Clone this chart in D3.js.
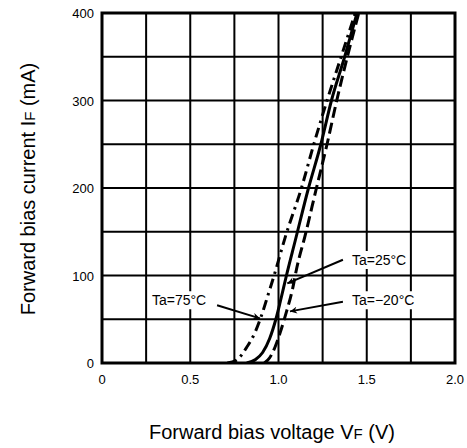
<!DOCTYPE html>
<html>
<head>
<meta charset="UTF-8">
<style>
body { margin: 0; background: #fff; }
svg text { font-family: Arial, "Liberation Sans", sans-serif; fill: #000; }
.grid line { stroke: #000; stroke-width: 2px; }
.curve { fill: none; stroke: #000; stroke-width: 3px; }
</style>
<script src="https://d3js.org/d3.v7.min.js"></script>
</head>
<body>
<svg></svg>
<script>

// forward voltage (V) vs forward current (mA)
var vf25 = [0.82, 0.87, 0.91, 0.95, 0.985, 1.01, 1.045, 1.095, 1.17, 1.24, 1.30, 1.375, 1.445];
var if25 = [0, 4, 12, 28, 50, 70, 100, 140, 200, 250, 300, 350, 400];

var vfm20 = [0.92, 0.95, 0.98, 1.01, 1.04, 1.08, 1.105, 1.15, 1.215, 1.275, 1.33, 1.39, 1.455];
var ifm20 = [0, 6, 18, 35, 55, 85, 110, 145, 200, 250, 300, 350, 400];

var vf75 = [0.71, 0.76, 0.82, 0.867, 0.905, 0.935, 0.975, 1.04, 1.13, 1.20, 1.275, 1.355, 1.435];
var if75 = [0, 3, 18, 35, 55, 74, 100, 145, 200, 250, 300, 350, 400];

var xTicks = [0, 0.5, 1.0, 1.5, 2.0];
var xTickLabels = ["0", "0.5", "1.0", "1.5", "2.0"];
var yTicks = [0, 100, 200, 300, 400];

var labels = ["Ta=25\u00b0C", "Ta=\u221220\u00b0C", "Ta=75\u00b0C"];
// label anchor (V, mA) and arrow from / to (V, mA)
var labelPos = [[1.416, 112], [1.416, 66], [0.283, 66]];
var arrowFrom = [[1.365, 118], [1.365, 70], [0.652, 66]];
var arrowTo = [[1.05, 91], [1.065, 59], [0.895, 51]];

var margin = {top: 13, right: 12, bottom: 85, left: 102};
var width = 467 - margin.left - margin.right;
var height = 448 - margin.top - margin.bottom;

var svg = d3.select('svg')
  .attr('width', 467)
  .attr('height', 448);

var g = svg.append('g')
  .attr('transform', 'translate(' + margin.left + ',' + margin.top + ')');

var x = d3.scaleLinear().domain([0, 2]).range([0, width]);
var y = d3.scaleLinear().domain([0, 400]).range([height, 0]);

var defs = svg.append('defs');
defs.append('marker')
  .attr('id', 'arrow')
  .attr('viewBox', '0 0 10 10')
  .attr('refX', 10).attr('refY', 5)
  .attr('markerWidth', 10).attr('markerHeight', 7)
  .attr('markerUnits', 'userSpaceOnUse')
  .attr('orient', 'auto')
  .append('path')
  .attr('d', 'M0,0 L10,5 L0,10 L3,5 z')
  .attr('fill', '#000');
defs.append('clipPath').attr('id', 'plot')
  .append('rect').attr('width', width).attr('height', height);

// grid every 0.25 V and 50 mA
var grid = g.append('g').attr('class', 'grid');
grid.selectAll('.vl')
  .data(d3.range(1, 8).map(function (i) { return i * 0.25; }))
  .enter().append('line')
  .attr('x1', function (d) { return x(d); })
  .attr('x2', function (d) { return x(d); })
  .attr('y1', 0).attr('y2', height);
grid.selectAll('.hl')
  .data(d3.range(1, 8).map(function (i) { return i * 50; }))
  .enter().append('line')
  .attr('y1', function (d) { return y(d); })
  .attr('y2', function (d) { return y(d); })
  .attr('x1', 0).attr('x2', width);

var line = d3.line()
  .x(function (d) { return x(d[0]); })
  .y(function (d) { return y(d[1]); })
  .curve(d3.curveMonotoneX);

var curves = [
  {v: vf25, i: if25, dash: null},
  {v: vfm20, i: ifm20, dash: '11,5'},
  {v: vf75, i: if75, dash: '10,5,2.5,5'}
];

g.append('g').attr('clip-path', 'url(#plot)')
  .selectAll('path')
  .data(curves)
  .enter().append('path')
  .attr('class', 'curve')
  .attr('stroke-dasharray', function (d) { return d.dash; })
  .attr('d', function (d) { return line(d.v.map(function (v, k) { return [v, d.i[k]]; })); });

// labels with white boxes and arrows
labels.forEach(function (t, k) {
  var lg = g.append('g');
  var rect = lg.append('rect').attr('fill', '#fff');
  var txt = lg.append('text')
    .attr('x', x(labelPos[k][0]))
    .attr('y', y(labelPos[k][1]))
    .style('font-size', '14px')
    .text(t);
  var bb = txt.node().getBBox();
  rect.attr('x', bb.x - 3).attr('y', bb.y - 1)
    .attr('width', bb.width + 6).attr('height', bb.height + 2);
  lg.append('line')
    .attr('x1', x(arrowFrom[k][0])).attr('y1', y(arrowFrom[k][1]))
    .attr('x2', x(arrowTo[k][0])).attr('y2', y(arrowTo[k][1]))
    .attr('stroke', '#000').attr('stroke-width', 2)
    .attr('marker-end', 'url(#arrow)');
});

// frame
g.append('rect')
  .attr('width', width).attr('height', height)
  .attr('fill', 'none').attr('stroke', '#000').attr('stroke-width', 3);

// tick labels
g.selectAll('.xt')
  .data(xTicks)
  .enter().append('text')
  .attr('x', function (d) { return x(d); })
  .attr('y', height + 21)
  .attr('text-anchor', 'middle')
  .style('font-size', '13px')
  .text(function (d, k) { return xTickLabels[k]; });

g.selectAll('.yt')
  .data(yTicks)
  .enter().append('text')
  .attr('x', -8)
  .attr('y', function (d) { return y(d) + 5; })
  .attr('text-anchor', 'end')
  .style('font-size', '13px')
  .text(function (d) { return d; });

// axis titles
var xt = svg.append('text')
  .attr('x', 272).attr('y', 439)
  .attr('text-anchor', 'middle')
  .style('font-size', '20px');
xt.append('tspan').text('Forward bias voltage V');
xt.append('tspan').style('font-size', '15px').text('F');
xt.append('tspan').text(' (V)');

var yt = svg.append('text')
  .attr('transform', 'translate(35,189) rotate(-90)')
  .attr('text-anchor', 'middle')
  .style('font-size', '20px');
yt.append('tspan').text('Forward bias current I');
yt.append('tspan').style('font-size', '15px').text('F');
yt.append('tspan').text(' (mA)');

</script>
</body>
</html>
